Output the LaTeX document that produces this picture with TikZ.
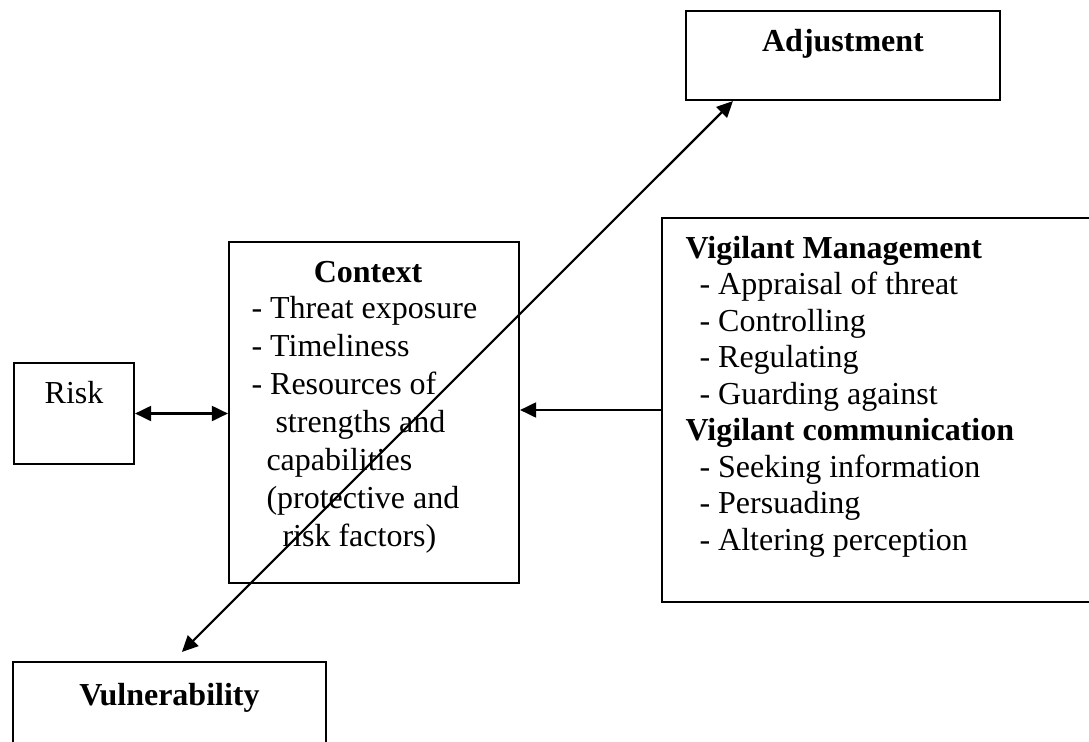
\documentclass[tikz,border=0pt]{standalone}
\usepackage{fontspec}
\setmainfont{Liberation Serif}
\usetikzlibrary{arrows.meta,calc}
\begin{document}
\begin{tikzpicture}[x=0.375pt,y=-0.375pt,
  box/.style={draw, line width=0.8pt, rectangle, inner sep=0pt},
  body/.style={inner sep=0pt, anchor=base west, font=\fontsize{12}{14}\selectfont},
  title/.style={inner sep=0pt, anchor=base, font=\fontsize{12}{14}\selectfont\bfseries},
  head/.style={inner sep=0pt, anchor=base west, font=\fontsize{12}{14}\selectfont\bfseries},
  headtip/.tip={Triangle[length=6pt,width=5.6pt]},
  link/.style={line width=0.8pt, headtip-headtip},
  feed/.style={line width=0.8pt, -headtip}
]
\useasboundingbox (0,0) rectangle (1089,742);

% boxes
\node[box, minimum width=117.75pt, minimum height=33.375pt] (adj) at (843,55.5) {};
\node[box, minimum width=45pt, minimum height=37.875pt] (risk) at (74,413.5) {};
\node[box, minimum width=108.75pt, minimum height=127.875pt] (ctx) at (374,412.5) {};
\node[box, minimum width=162.375pt, minimum height=144pt] (vig) at (878.5,410) {};
\node[box, minimum width=117.375pt, minimum height=51.75pt] (vul) at (169.5,731) {};

% box texts
\node[title] (adjt) at (843,52) {Adjustment};
\node[inner sep=0pt, anchor=base, font=\fontsize{12}{14}\selectfont] (riskt) at (74,403) {Risk};
\node[title] (vult) at (169.5,705) {Vulnerability};

\node[title] (ctxt) at (368,282) {Context};
\node[body] (c1) at (251,318) {- Threat exposure};
\node[body] (c2) at (251,356) {- Timeliness};
\node[body] (c3) at (251,394) {- Resources of};
\node[body] (c4) at (275,432) {strengths and};
\node[body] (c5) at (266,470) {capabilities};
\node[body] (c6) at (266,508) {(protective and};
\node[body] (c7) at (282,546) {risk factors)};

\node[head] (v0) at (685,258) {Vigilant Management};
\node[body] (v1) at (699,294.5) {- Appraisal of threat};
\node[body] (v2) at (699,331) {- Controlling};
\node[body] (v3) at (699,367.5) {- Regulating};
\node[body] (v4) at (699,404) {- Guarding against};
\node[head] (v5) at (685,440.5) {Vigilant communication};
\node[body] (v6) at (699,477) {- Seeking information};
\node[body] (v7) at (699,513.5) {- Persuading};
\node[body] (v8) at (699,550) {- Altering perception};

% connectors
\draw[link] (risk.east) -- (risk.east -| ctx.west);
\draw[feed] (vig.west) -- (vig.west -| ctx.east);
\draw[link] ($(vul.north west)+(170,-9)$) -- ($(adj.south west)+(48,0)$);
\end{tikzpicture}
\end{document}
